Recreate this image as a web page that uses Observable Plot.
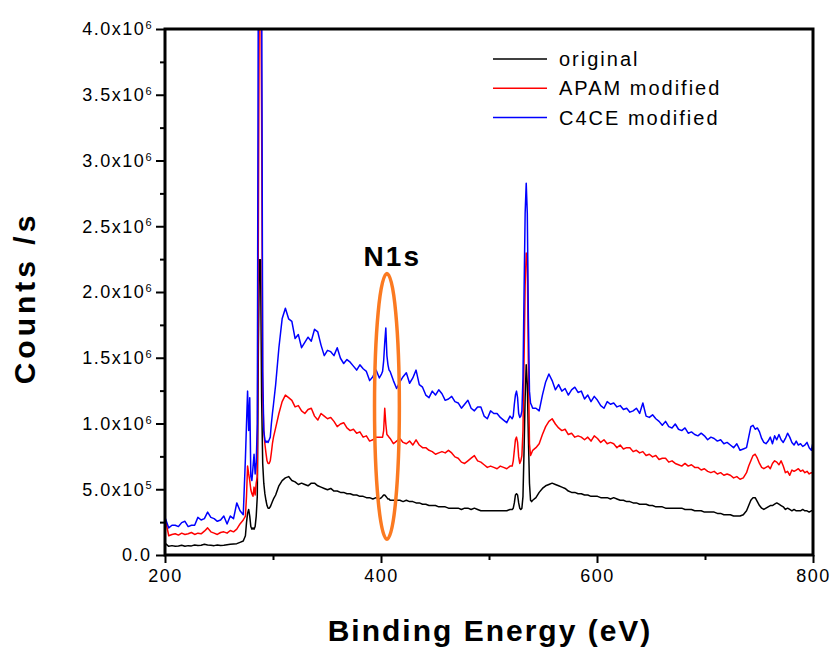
<!DOCTYPE html>
<html><head><meta charset="utf-8">
<script src="https://cdn.jsdelivr.net/npm/d3@7"></script>
<script src="https://cdn.jsdelivr.net/npm/@observablehq/plot@0.6"></script>
<style>
body{margin:0;background:#fff;}
#chart{position:relative;width:834px;height:648px;}
</style></head><body><div id="chart"></div>
<script>
// Binding energy (eV)
const energy = [
200,203,206,209,212,215,218,221,224,227,230,233,236,239,242,245,248,251,254,257,260,263,266,269,272,
274,275,276,277,278,279,280,281,282,283,284,285,286,287,288,289,290,291,292,293,294,295,296,297,298,299,300,
302,305,308,311,314,317,320,323,326,329,332,335,338,341,344,347,350,353,356,359,362,365,368,371,374,377,380,383,386,389,392,395,398,
400,401,402,403,404,405,406,407,408,
411,414,417,420,423,426,429,432,435,438,441,444,447,450,453,456,459,462,465,468,471,474,477,480,483,486,489,492,495,498,501,504,507,510,513,516,519,
521,522,523,524,525,526,527,528,529,530,531,532,533,534,535,536,537,538,539,540,
543,546,549,552,555,558,561,564,567,570,573,576,579,582,585,588,591,594,597,600,603,606,609,612,615,618,621,624,627,630,633,636,639,642,645,648,651,654,657,660,663,666,669,672,675,678,681,684,687,690,693,696,699,702,705,708,711,714,717,720,723,726,729,732,735,738,
740,742,744,746,748,750,752,754,756,758,760,762,764,766,768,770,772,774,776,778,780,782,784,786,788,790,792,794,796,798,800];

// Counts/s in units of 10^6
const original = [
0.09,0.07,0.075,0.07,0.072,0.078,0.07,0.075,0.073,0.08,0.076,0.078,0.085,0.08,0.078,0.075,0.08,0.076,0.078,0.082,0.085,0.088,0.09,0.1,0.11,
0.15,0.25,0.32,0.35,0.30,0.22,0.20,0.21,0.20,0.22,0.30,0.45,1.6,2.25,2.25,1.2,0.7,0.55,0.47,0.42,0.38,0.36,0.36,0.37,0.39,0.41,0.43,
0.46,0.53,0.57,0.59,0.60,0.57,0.56,0.54,0.55,0.54,0.53,0.55,0.55,0.53,0.52,0.51,0.50,0.51,0.49,0.49,0.48,0.48,0.47,0.47,0.46,0.46,0.45,0.45,0.44,0.44,0.43,0.44,0.43,
0.44,0.45,0.46,0.46,0.45,0.44,0.43,0.43,0.42,
0.42,0.42,0.42,0.41,0.42,0.41,0.41,0.40,0.40,0.39,0.39,0.38,0.38,0.38,0.37,0.37,0.37,0.36,0.36,0.36,0.36,0.35,0.36,0.36,0.35,0.36,0.35,0.34,0.34,0.34,0.34,0.34,0.34,0.34,0.34,0.34,0.35,
0.35,0.36,0.40,0.46,0.47,0.46,0.40,0.36,0.35,0.36,0.45,0.80,1.20,1.45,1.30,0.90,0.55,0.42,0.41,0.42,
0.44,0.48,0.51,0.53,0.54,0.55,0.54,0.53,0.52,0.51,0.49,0.48,0.48,0.47,0.47,0.46,0.46,0.45,0.45,0.45,0.44,0.44,0.44,0.43,0.44,0.43,0.42,0.42,0.41,0.41,0.40,0.40,0.39,0.39,0.39,0.38,0.38,0.37,0.37,0.37,0.36,0.36,0.36,0.36,0.36,0.36,0.35,0.35,0.35,0.34,0.34,0.34,0.33,0.33,0.33,0.33,0.32,0.32,0.31,0.31,0.31,0.30,0.30,0.30,0.31,0.34,
0.38,0.42,0.44,0.44,0.41,0.38,0.36,0.35,0.36,0.37,0.38,0.38,0.39,0.40,0.39,0.38,0.37,0.35,0.36,0.35,0.34,0.35,0.34,0.34,0.34,0.35,0.34,0.34,0.33,0.34,0.34];

const apam = [
0.27,0.15,0.16,0.165,0.155,0.17,0.16,0.165,0.175,0.16,0.17,0.165,0.185,0.21,0.18,0.17,0.16,0.175,0.18,0.17,0.19,0.18,0.2,0.24,0.27,
0.3,0.45,0.68,0.62,0.57,0.5,0.47,0.45,0.52,0.46,0.55,0.6,2.5,4.6,4.6,3.35,1.23,0.95,0.85,0.78,0.72,0.7,0.7,0.72,0.78,0.85,0.9,
0.97,1.08,1.17,1.22,1.20,1.18,1.13,1.14,1.10,1.08,1.11,1.12,1.06,1.03,1.08,1.06,1.04,1.05,1.02,0.98,1.00,1.01,0.97,0.95,0.96,0.93,0.94,0.90,0.91,0.87,0.88,0.90,0.90,
0.90,0.90,0.95,1.12,1.00,0.92,0.91,0.90,0.89,
0.85,0.87,0.89,0.86,0.85,0.87,0.84,0.88,0.84,0.82,0.82,0.80,0.79,0.77,0.78,0.79,0.78,0.80,0.78,0.75,0.74,0.71,0.70,0.72,0.74,0.76,0.72,0.71,0.69,0.67,0.68,0.67,0.66,0.68,0.67,0.66,0.68,
0.68,0.72,0.80,0.88,0.90,0.86,0.75,0.70,0.72,0.76,0.95,1.50,2.05,2.30,2.25,1.45,0.85,0.76,0.78,0.80,
0.82,0.85,0.92,0.98,1.02,1.04,1.00,0.97,0.95,0.96,0.92,0.93,0.90,0.91,0.90,0.88,0.90,0.87,0.91,0.89,0.86,0.88,0.85,0.86,0.85,0.82,0.84,0.81,0.82,0.82,0.79,0.80,0.78,0.79,0.76,0.77,0.75,0.76,0.73,0.74,0.74,0.71,0.72,0.70,0.69,0.68,0.70,0.68,0.69,0.67,0.67,0.65,0.66,0.64,0.63,0.64,0.62,0.63,0.61,0.62,0.61,0.59,0.60,0.58,0.59,0.63,
0.68,0.72,0.76,0.77,0.74,0.70,0.67,0.66,0.67,0.68,0.66,0.70,0.72,0.71,0.69,0.72,0.68,0.63,0.64,0.61,0.65,0.64,0.65,0.66,0.64,0.65,0.63,0.64,0.62,0.63,0.62];

const c4ce = [
0.28,0.21,0.23,0.23,0.22,0.25,0.26,0.22,0.23,0.23,0.29,0.27,0.28,0.33,0.29,0.28,0.26,0.27,0.30,0.24,0.30,0.28,0.40,0.34,0.31,
0.74,1.0,1.25,0.95,1.2,0.6,0.57,0.67,0.77,0.62,0.7,1.0,4.6,4.6,4.6,4.6,1.4,0.95,0.88,0.86,0.87,0.86,0.88,0.9,1.0,1.08,1.15,
1.30,1.58,1.80,1.88,1.80,1.78,1.65,1.68,1.58,1.62,1.66,1.63,1.72,1.70,1.60,1.52,1.56,1.55,1.52,1.58,1.50,1.46,1.49,1.47,1.44,1.41,1.45,1.42,1.40,1.33,1.36,1.41,1.35,
1.38,1.40,1.48,1.62,1.73,1.52,1.45,1.41,1.40,
1.33,1.27,1.32,1.36,1.39,1.31,1.35,1.41,1.30,1.28,1.22,1.20,1.25,1.22,1.26,1.23,1.18,1.19,1.21,1.17,1.16,1.12,1.15,1.18,1.12,1.10,1.13,1.13,1.06,1.04,1.10,1.08,1.08,1.05,1.03,1.01,1.06,
1.04,1.06,1.15,1.22,1.25,1.20,1.08,1.05,1.06,1.10,1.35,2.0,2.60,2.83,2.60,1.80,1.25,1.16,1.14,1.12,
1.12,1.10,1.22,1.32,1.38,1.33,1.26,1.30,1.25,1.27,1.22,1.26,1.28,1.24,1.25,1.19,1.22,1.17,1.21,1.18,1.14,1.12,1.17,1.15,1.16,1.13,1.14,1.11,1.12,1.09,1.10,1.12,1.08,1.16,1.06,1.05,1.07,1.04,1.02,0.99,1.02,0.98,0.97,1.00,0.96,0.95,0.97,0.93,0.94,0.92,0.91,0.93,0.91,0.88,0.90,0.89,0.87,0.88,0.85,0.86,0.84,0.82,0.85,0.80,0.81,0.82,
0.90,0.98,0.99,0.96,0.97,0.94,0.89,0.86,0.85,0.87,0.90,0.85,0.91,0.88,0.92,0.88,0.86,0.89,0.93,0.90,0.86,0.84,0.87,0.84,0.85,0.83,0.84,0.86,0.82,0.80,0.88];

const seriesNames = ["original", "APAM modified", "C4CE modified"];
const seriesColors = ["#000000", "#ff0000", "#0000ff"];

const xTicks = [200, 400, 600, 800];
const xMinorTicks = [300, 500, 700];
const yTicks = [0, 0.5e6, 1.0e6, 1.5e6, 2.0e6, 2.5e6, 3.0e6, 3.5e6, 4.0e6];
const yMinorTicks = [0.25e6, 0.75e6, 1.25e6, 1.75e6, 2.25e6, 2.75e6, 3.25e6, 3.75e6];
const yTickMantissa = ["0.0", "5.0x10", "1.0x10", "1.5x10", "2.0x10", "2.5x10", "3.0x10", "3.5x10", "4.0x10"];
const yTickExponent = ["", "5", "6", "6", "6", "6", "6", "6", "6"];

const xTitle = "Binding Energy (eV)";
const yTitle = "Counts /s";
const annotations = [{energy: 410, counts: 2.2e6, text: "N1s"}];
const n1sRegion = {energy: 405.5, counts: 1.13e6, halfWidth: 11.5, halfHeight: 1.01e6};

const table = [];
[original, apam, c4ce].forEach((arr, s) => arr.forEach((v, i) => table.push({energy: energy[i], counts: v * 1e6, series: seriesNames[s]})));

const font = "'Liberation Sans', Arial, Helvetica, sans-serif";

const chart = Plot.plot({
  width: 834, height: 648,
  marginLeft: 165, marginRight: 21, marginTop: 29, marginBottom: 93,
  style: {fontFamily: font, background: "white", color: "black", overflow: "visible"},
  x: {domain: [200, 800]},
  y: {domain: [0, 4e6]},
  color: {domain: seriesNames, range: seriesColors},
  marks: [
    Plot.line(table, {x: "energy", y: "counts", z: "series", stroke: "series", strokeWidth: 1.5, clip: true}),
    Plot.axisX({ticks: xTicks, tickSize: 8, tickPadding: 6, strokeWidth: 2, fontSize: 18, tickFormat: d => String(d), label: null}),
    Plot.axisX({ticks: xMinorTicks, tickSize: 5, strokeWidth: 2, tickFormat: () => "", label: null}),
    Plot.axisY({ticks: yTicks, tickSize: 9, tickPadding: 5, strokeWidth: 2, fontSize: 18, tickFormat: d => yTickMantissa[yTicks.indexOf(d)], label: null}),
    Plot.axisY({ticks: yMinorTicks, tickSize: 5, strokeWidth: 2, tickFormat: () => "", label: null}),
    Plot.text(annotations, {x: "energy", y: "counts", text: "text", fontSize: 28, fontWeight: "bold", lineAnchor: "bottom"})
  ]
});

document.getElementById("chart").appendChild(chart);
const svg = d3.select(chart);
const xs = chart.scale("x"), ys = chart.scale("y");

// styling of axis pieces
svg.selectAll('[aria-label="x-axis tick"], [aria-label="y-axis tick"]').attr("stroke-width", 2).attr("stroke", "black");
svg.selectAll('[aria-label="y-axis tick label"] text, [aria-label="x-axis tick label"] text').style("font-size", "18px").style("letter-spacing", "1.5px").attr("fill", "black");
const yLabelGroup = svg.select('[aria-label="y-axis tick label"]');
yLabelGroup.selectAll("text").each(function(_, i) {
  const e = yTickExponent[i];
  if (e) d3.select(this).append("tspan").attr("dy", "-0.55em").style("font-size", "11px").style("letter-spacing", "0px").text(e);
});
svg.selectAll('[aria-label="text"] text').style("letter-spacing", "2px");

// thick plot frame (drawn from the scales' ranges)
const [fx0, fx1] = xs.range, [fy0, fy1] = ys.range;
svg.append("rect")
  .attr("x", Math.min(fx0, fx1)).attr("y", Math.min(fy0, fy1))
  .attr("width", Math.abs(fx1 - fx0)).attr("height", Math.abs(fy1 - fy0))
  .attr("fill", "none").attr("stroke", "black").attr("stroke-width", 3);

// N1s ellipse
const cx = xs.apply(n1sRegion.energy), cy = ys.apply(n1sRegion.counts);
svg.append("ellipse")
  .attr("cx", cx).attr("cy", cy)
  .attr("rx", xs.apply(n1sRegion.energy + n1sRegion.halfWidth) - cx)
  .attr("ry", ys.apply(n1sRegion.counts - n1sRegion.halfHeight) - cy)
  .attr("fill", "none").attr("stroke", "#fb7a21").attr("stroke-width", 3.5);

// legend
const lg = svg.append("g").attr("font-family", font).attr("font-size", 20).attr("text-anchor", "start");
seriesNames.forEach((name, i) => {
  const y = 59 + i * 29.3;
  lg.append("line").attr("x1", 493).attr("x2", 547).attr("y1", y).attr("y2", y).attr("stroke", seriesColors[i]).attr("stroke-width", 1.5);
  lg.append("text").attr("x", 559).attr("y", y + 7).attr("text-anchor", "start").attr("fill", "black").style("letter-spacing", "2px").text(name);
});

// axis titles
svg.append("text").attr("x", 490).attr("y", 641).attr("text-anchor", "middle").attr("fill", "black")
  .attr("font-family", font).attr("font-size", 30).attr("font-weight", "bold").style("letter-spacing", "2px").text(xTitle);
svg.append("text").attr("transform", "translate(35,298) rotate(-90)").attr("text-anchor", "middle").attr("fill", "black")
  .attr("font-family", font).attr("font-size", 30).attr("font-weight", "bold").style("letter-spacing", "4px").text(yTitle);
</script></body></html>
